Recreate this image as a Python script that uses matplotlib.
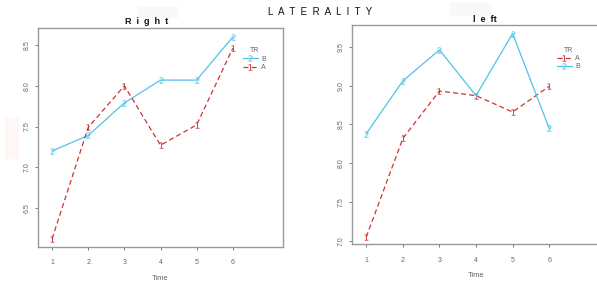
import matplotlib.pyplot as plt
from matplotlib.patches import Rectangle

plt.rcParams["font.family"] = ["Liberation Sans", "DejaVu Sans"]

# Data
time = [1, 2, 3, 4, 5, 6]
time_labels = ["1", "2", "3", "4", "5", "6"]

right_b = [7.20, 7.39, 7.79, 8.07, 8.07, 8.60]
right_a = [6.12, 7.49, 8.00, 7.27, 7.52, 8.46]

left_a = [7.05, 8.32, 8.93, 8.87, 8.66, 8.99]
left_b = [8.38, 9.06, 9.46, 8.87, 9.67, 8.45]

right_yticks = [6.5, 7.0, 7.5, 8.0, 8.5]
left_yticks = [7.0, 7.5, 8.0, 8.5, 9.0, 9.5]

BLUE = "#4fc3e8"
RED = "#cc3333"
GREY = "#666666"
SPINE = "#999999"

W, H = 597, 283
fig = plt.figure(figsize=(W / 100, H / 100), dpi=100)


def px_axes(x0, y0, x1, y1):
    # pixel box (from top-left) -> figure fraction axes
    return fig.add_axes([x0 / W, (H - y1) / H, (x1 - x0) / W, (y1 - y0) / H])


def style(ax, ylim, yticks, right_spine=True):
    ax.set_xlim(0.61, 7.39)
    ax.set_ylim(*ylim)
    ax.set_xticks(time)
    ax.set_xticklabels(time_labels)
    ax.set_yticks(yticks)
    ax.set_yticklabels([f"{v:.1f}" for v in yticks], rotation=90, va="center")
    ax.tick_params(axis="both", labelsize=5, colors=GREY, length=2, width=0.6,
                   pad=7)
    ax.tick_params(axis="y", pad=3)
    for s in ax.spines.values():
        s.set_color(SPINE)
        s.set_linewidth(1.0)
    ax.spines["right"].set_visible(right_spine)
    ax.set_xlabel("Time", fontsize=5.5, color=GREY, labelpad=6)


def series(ax, y, color, ls, digit, label):
    line, = ax.plot(time, y, color=color, linestyle=ls, linewidth=0.9,
                    dashes=(4, 2.5) if ls == "--" else (None, None),
                    marker=rf"$\mathrm{{{digit}}}$", markersize=4.5,
                    markeredgewidth=0.05, label=label)
    return line


# --- Right panel
ax1 = px_axes(38, 28, 283, 247)
style(ax1, (6.02, 8.71), right_yticks)
lb = series(ax1, right_b, BLUE, "-", "2", "B")
la = series(ax1, right_a, RED, "--", "1", "A")
leg = ax1.legend(handles=[lb, la], title="TR", loc="upper left",
                 bbox_to_anchor=(0.81, 0.94), frameon=False, fontsize=5,
                 title_fontsize=5, handlelength=2.2, numpoints=1,
                 labelspacing=0.2, handletextpad=0.5)
for t in leg.get_texts():
    t.set_color(GREY)
leg.get_title().set_color(GREY)

# --- Left panel
ax2 = px_axes(352, 25, 600, 244)
style(ax2, (6.96, 9.78), left_yticks, right_spine=False)
la2 = series(ax2, left_a, RED, "--", "1", "A")
lb2 = series(ax2, left_b, BLUE, "-", "2", "B")
leg2 = ax2.legend(handles=[la2, lb2], title="TR", loc="upper left",
                  bbox_to_anchor=(0.80, 0.93), frameon=False, fontsize=5,
                  title_fontsize=5, handlelength=2.2, numpoints=1,
                  labelspacing=0.2, handletextpad=0.5)
for t in leg2.get_texts():
    t.set_color(GREY)
leg2.get_title().set_color(GREY)

# faint patches left over in the composite image
fig.patches.append(Rectangle((5 / W, (H - 158) / H), 13 / W, 40 / H,
                             transform=fig.transFigure, color="#fff6f6", zorder=0))
fig.patches.append(Rectangle((138 / W, (H - 17) / H), 39 / W, 10 / H,
                             transform=fig.transFigure, color="#f8f8f8", zorder=0))
fig.patches.append(Rectangle((450 / W, (H - 15) / H), 40 / W, 12 / H,
                             transform=fig.transFigure, color="#f8f8f8", zorder=0))

# titles
fig.text(320 / W, 1 - 12 / H, "L  A  T  E  R  A  L  I  T  Y", fontsize=7,
         ha="center", va="center", color="#111111")
fig.text(147 / W, 1 - 22 / H, "R  i  g  h  t", fontsize=6.5, fontweight="bold",
         ha="center", va="center", color="#111111")
fig.text(485 / W, 1 - 19 / H, "l  e  ft", fontsize=6.5, fontweight="bold",
         ha="center", va="center", color="#111111")

fig.savefig("out.png", dpi=100)
